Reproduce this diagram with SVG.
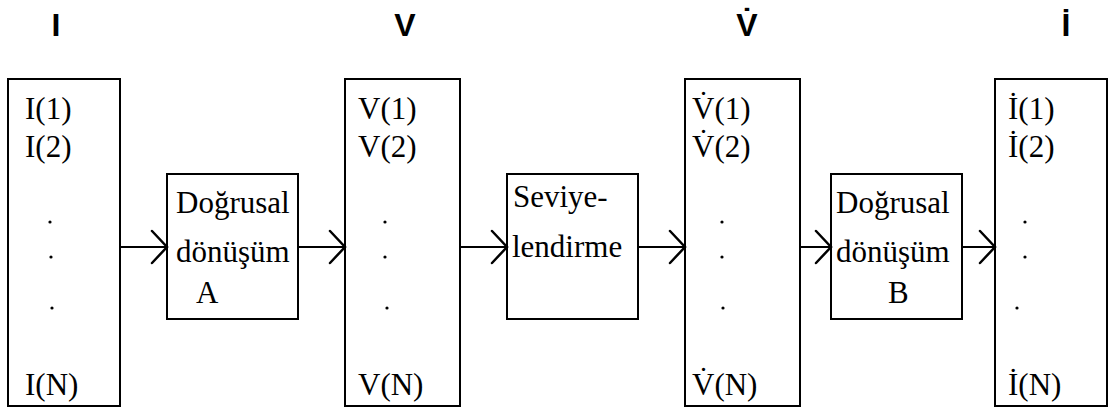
<svg xmlns="http://www.w3.org/2000/svg" width="1108" height="419" viewBox="0 0 1108 419">
<defs>
<style>
.box{fill:#fff;stroke:#000;stroke-width:2}
.t{font-family:"Liberation Serif","Times New Roman",serif;font-size:31px;fill:#000}
.h{font-family:"Liberation Sans",Arial,sans-serif;font-size:32px;font-weight:bold;fill:#000}
.ln{stroke:#000;stroke-width:2;fill:none}
.hd{stroke:#000;stroke-width:2.5;fill:none;stroke-linecap:round;stroke-linejoin:miter}
.dot{fill:#000}
</style>
</defs>
<rect width="1108" height="419" fill="#fff"/>
<g id="labels">
<text class="h" x="56" y="36" text-anchor="middle">I</text>
<text class="h" x="405" y="36" text-anchor="middle">V</text>
<text class="h" x="747" y="36" text-anchor="middle">V̇</text>
<text class="h" x="1066" y="36" text-anchor="middle">İ</text>
</g>
<g id="vecI">
<rect class="box" x="8" y="79" width="112" height="327"/>
<text class="t" x="25" y="119">I(1)</text>
<text class="t" x="25" y="157">I(2)</text>
<circle class="dot" cx="50" cy="222" r="1.6"/>
<circle class="dot" cx="51" cy="257" r="1.6"/>
<circle class="dot" cx="52" cy="308" r="1.6"/>
<text class="t" x="25" y="395">I(N)</text>
</g>
<g id="trA">
<rect class="box" x="167" y="174" width="131" height="145"/>
<text class="t" x="176" y="213">Doğrusal</text>
<text class="t" x="176" y="262">dönüşüm</text>
<text class="t" x="196" y="303">A</text>
</g>
<g id="vecV">
<rect class="box" x="345" y="79" width="115" height="327"/>
<text class="t" x="358" y="119">V(1)</text>
<text class="t" x="358" y="157">V(2)</text>
<circle class="dot" cx="385" cy="222" r="1.6"/>
<circle class="dot" cx="385" cy="257" r="1.6"/>
<circle class="dot" cx="387" cy="308" r="1.6"/>
<text class="t" x="358" y="395">V(N)</text>
</g>
<g id="quant">
<rect class="box" x="507" y="174" width="131" height="145"/>
<text class="t" x="513" y="207">Seviye-</text>
<text class="t" x="512" y="257">lendirme</text>
</g>
<g id="vecVdot">
<rect class="box" x="685" y="79" width="115" height="327"/>
<text class="t" x="692" y="119">V̇(1)</text>
<text class="t" x="692" y="157">V̇(2)</text>
<circle class="dot" cx="722" cy="222" r="1.6"/>
<circle class="dot" cx="722" cy="257" r="1.6"/>
<circle class="dot" cx="723" cy="308" r="1.6"/>
<text class="t" x="692" y="395">V̇(N)</text>
</g>
<g id="trB">
<rect class="box" x="831" y="174" width="131" height="145"/>
<text class="t" x="836" y="213">Doğrusal</text>
<text class="t" x="836" y="262">dönüşüm</text>
<text class="t" x="888" y="303">B</text>
</g>
<g id="vecIdot">
<rect class="box" x="995" y="79" width="112" height="327"/>
<text class="t" x="1008" y="119">İ(1)</text>
<text class="t" x="1008" y="157">İ(2)</text>
<circle class="dot" cx="1025" cy="222" r="1.6"/>
<circle class="dot" cx="1025" cy="257" r="1.6"/>
<circle class="dot" cx="1017" cy="308" r="1.6"/>
<text class="t" x="1008" y="395">İ(N)</text>
</g>
<g id="connectors">
<line class="ln" x1="120" y1="247" x2="166" y2="247"/>
<polyline class="hd" points="152,231 167,247 152,263"/>
<line class="ln" x1="298" y1="247" x2="344" y2="247"/>
<polyline class="hd" points="330,231 345,247 330,263"/>
<line class="ln" x1="460" y1="247" x2="506" y2="247"/>
<polyline class="hd" points="492,231 507,247 492,263"/>
<line class="ln" x1="638" y1="247" x2="684" y2="247"/>
<polyline class="hd" points="670,231 685,247 670,263"/>
<line class="ln" x1="800" y1="247" x2="830" y2="247"/>
<polyline class="hd" points="816,231 831,247 816,263"/>
<line class="ln" x1="962" y1="247" x2="994" y2="247"/>
<polyline class="hd" points="980,231 995,247 980,263"/>
</g>
</svg>
